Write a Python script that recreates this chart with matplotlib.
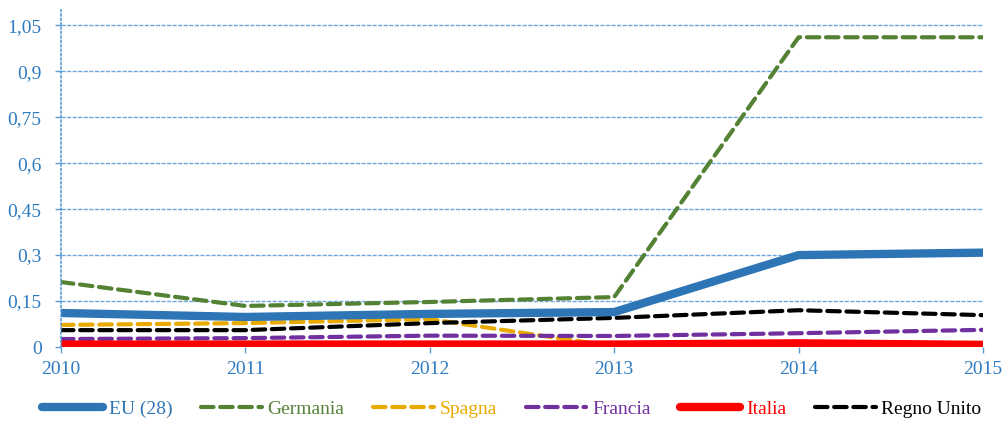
import matplotlib.pyplot as plt
from matplotlib.ticker import FuncFormatter

# years on the x axis
years = [2010, 2011, 2012, 2013, 2014, 2015]

# series values
eu28 = [0.111, 0.098, 0.108, 0.114, 0.300, 0.308]
germania = [0.212, 0.134, 0.147, 0.163, 1.011, 1.011]
spagna = [0.072, 0.078, 0.091, 0.002, 0.0, 0.0]
francia = [0.026, 0.029, 0.037, 0.036, 0.045, 0.056]
italia = [0.008, 0.008, 0.008, 0.008, 0.012, 0.007]
regno_unito = [0.055, 0.055, 0.078, 0.095, 0.120, 0.104]

yticks = [0, 0.15, 0.3, 0.45, 0.6, 0.75, 0.9, 1.05]

plt.rcParams['font.family'] = ['Liberation Serif', 'DejaVu Serif']
axis_blue = '#2E7BC0'

fig = plt.figure(figsize=(10.03, 4.21), dpi=100)
ax = fig.add_axes([61 / 1003, 74 / 421, 922 / 1003, 337 / 421])

# (label, values, colour, width, dashed)
series = [
    ('EU (28)', eu28, '#2E75B6', 6, False),
    ('Germania', germania, '#548235', 3, True),
    ('Spagna', spagna, '#E8AA00', 3, True),
    ('Francia', francia, '#7030A0', 3, True),
    ('Italia', italia, '#FF0000', 6, False),
    ('Regno Unito', regno_unito, '#000000', 3, True),
]

# thin lines first so the thick ones sit on top like in the original
order = [1, 2, 5, 3, 0, 4]
handles = {}
for i in order:
    label, vals, color, lw, dashed = series[i]
    ls = (0, (3, 1.6)) if dashed else '-'
    line, = ax.plot(years, vals, color=color, lw=lw, ls=ls,
                    solid_capstyle='round', dash_capstyle='round', label=label)
    handles[i] = line

ax.set_xlim(2010, 2015)
ax.set_ylim(0, 1.1)
ax.set_xticks(years)
ax.set_yticks(yticks)
ax.yaxis.set_major_formatter(FuncFormatter(lambda v, p: ('%g' % round(v, 2)).replace('.', ',')))

# light blue dashed gridlines
ax.grid(axis='y', color='#6FA6DC', lw=1.0, ls=(0, (3, 1)))
ax.set_axisbelow(True)
for s in ['top', 'right', 'bottom']:
    ax.spines[s].set_visible(False)
ax.spines['left'].set_color('#5B9BD5')
ax.spines['left'].set_linestyle(':')
ax.spines['left'].set_linewidth(1.2)

ax.tick_params(axis='both', colors=axis_blue, labelsize=14, length=4, width=1)
ax.tick_params(axis='both', color='#5B9BD5')
ax.tick_params(axis='x', pad=6)
ax.tick_params(axis='y', pad=10)

leg = fig.legend([handles[i] for i in range(6)], [s[0] for s in series],
                 loc='center', bbox_to_anchor=(512 / 1003, 12 / 421), ncol=6,
                 frameon=False, fontsize=14, handlelength=3.1, handletextpad=0.3,
                 columnspacing=1.5, borderpad=0, borderaxespad=0)
for txt, s in zip(leg.get_texts(), series):
    txt.set_color(s[2])

fig.savefig('out.png', dpi=100)
